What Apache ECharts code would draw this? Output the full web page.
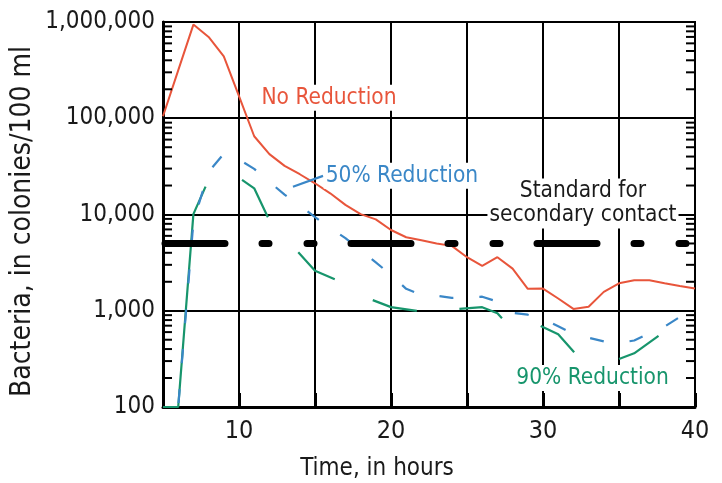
<!DOCTYPE html>
<html>
<head>
<meta charset="utf-8">
<script src="https://cdn.jsdelivr.net/npm/echarts@6/dist/echarts.min.js"></script>
<style>
html,body{margin:0;padding:0;background:#fff;}
#chart{width:722px;height:483px;}
</style>
</head>
<body>
<div id="chart"></div>
<script>
// ---- data ----
const xMin = 5, xMax = 40, xInterval = 5;
const yMin = 100, yMax = 1000000;

const redHours = [5,6,7,8,9,10,11,12,13,14,15,16,17,18,19,20,21,22,23,24,25,26,27,28,29,30,31,32,33,34,35,36,37,38,39,40];
const noReduction = [105000,314000,940000,700000,440000,170000,65000,42400,32000,26200,21100,16600,12600,10100,8900,6900,5800,5400,5000,4720,3600,2920,3600,2740,1690,1700,1340,1045,1100,1570,1930,2070,2070,1930,1810,1700];

const blueHours = [6,7,8,9,10,11,12,13,14,15,16,17,18,19,20,21,22,23,24,25,26,27,28,29,30,31,32,33,34,35,36,37,38,39,40];
const reduction50 = [100,8400,27700,42700,37200,29800,21800,16100,12400,9400,7260,5680,4240,3180,2360,1690,1460,1430,1360,1380,1400,1245,950,910,820,690,574,525,480,463,491,583,685,863,1000];

const greenHours = [5,6,7,7.8,9,10.2,11,11.9,13,13.9,15,16.3,17.5,18.8,20,21.7,23,24.5,26,27,27.3,28.5,29.85,31,32.05,33.5,35,36,37.6];
const reduction90 = [100,100,10100,19500,null,22900,18700,9380,null,4060,2610,2120,null,1290,1090,995,null,1045,1090,942,835,null,695,570,371,null,315,361,547];

const standardHours = [5, 40];
const standardValue = 5000;

const leaderHours = [13.55, 15.53];
const leaderValues = [19400, 25200];

const minorTicks = [200,300,400,500,600,700,800,900,2000,3000,4000,5000,6000,7000,8000,9000,20000,30000,40000,50000,60000,70000,80000,90000,200000,300000,400000,500000,600000,700000,800000,900000];

const xLabels = [10, 20, 30, 40];

const labelNo = {text: 'No Reduction', hour: 15.92, value: 163000};
const label50 = {text: '50% Reduction', hour: 20.72, value: 25200};
const label90 = {text: '90% Reduction', hour: 33.26, value: 200};
const labelStd = {text: 'Standard for\nsecondary contact', hour: 32.63, value: 13000};

// ---- styles ----
const FONT = "'DejaVu Sans Condensed', 'Liberation Sans', sans-serif";
const RED = '#e8553b', BLUE = '#3a87c7', GREEN = '#17956c';

const pair = (xs, ys) => xs.map((x, i) => [x, ys[i] == null ? '-' : ys[i]]);

function textMark(lbl, color) {
  return {
    silent: true,
    symbol: 'circle',
    symbolSize: 0,
    label: {
      show: true,
      position: 'inside',
      formatter: lbl.text,
      color: color,
      fontFamily: FONT,
      fontSize: 22.5,
      lineHeight: 24,
      align: 'center',
      backgroundColor: '#fff',
      padding: [1, 2]
    },
    data: [{coord: [lbl.hour, lbl.value], value: 0}]
  };
}

const chart = echarts.init(document.getElementById('chart'), null, {renderer: 'canvas'});

chart.setOption({
  animation: false,
  backgroundColor: '#fff',
  grid: {left: 163, right: 27, top: 22, bottom: 76, containLabel: false, outerBoundsMode: 'none',
         show: true, borderColor: '#000', borderWidth: 2, backgroundColor: 'transparent'},
  xAxis: {
    type: 'value', min: xMin, max: xMax, interval: xInterval,
    name: 'Time, in hours', nameLocation: 'middle', nameGap: 50, nameMoveOverlap: false,
    nameTextStyle: {fontFamily: FONT, fontSize: 24, color: '#1a1a1a', padding: [0, 104, 0, 0]},
    axisLine: {show: true, lineStyle: {color: '#000', width: 3}},
    axisTick: {show: true, inside: true, length: 14, lineStyle: {color: '#000', width: 3}},
    splitLine: {show: true, lineStyle: {color: '#000', width: 2}},
    axisLabel: {
      margin: 12, fontFamily: FONT, fontSize: 25, color: '#1a1a1a',
      formatter: v => xLabels.indexOf(v) >= 0 ? String(v) : ''
    }
  },
  yAxis: {
    type: 'log', logBase: 10, min: yMin, max: yMax,
    name: 'Bacteria, in colonies/100 ml', nameLocation: 'middle', nameGap: 126, nameMoveOverlap: false,
    nameTextStyle: {fontFamily: FONT, fontSize: 28, color: '#1a1a1a', padding: [0, 14, 0, 0]},
    axisLine: {show: true, lineStyle: {color: '#000', width: 3}},
    axisTick: {show: false},
    splitLine: {show: true, lineStyle: {color: '#000', width: 2}},
    axisLabel: {
      margin: 8, fontFamily: FONT, fontSize: 24, color: '#1a1a1a',
      formatter: v => Math.round(v).toLocaleString('en-US')
    }
  },
  series: [
    {
      type: 'custom', name: 'minorTicks', silent: true, z: 3, clip: false,
      data: minorTicks.map(v => [xMin, v]),
      renderItem: function (params, api) {
        const v = api.value(1);
        const pl = api.coord([xMin, v]);
        const pr = api.coord([xMax, v]);
        const st = {stroke: '#000', lineWidth: 2};
        return {
          type: 'group',
          children: [
            {type: 'line', shape: {x1: pl[0], y1: pl[1], x2: pl[0] + 9, y2: pl[1]}, style: st},
            {type: 'line', shape: {x1: pr[0] - 9, y1: pr[1], x2: pr[0], y2: pr[1]}, style: st}
          ]
        };
      }
    },
    {
      type: 'line', name: 'No Reduction', z: 2,
      data: pair(redHours, noReduction),
      showSymbol: false, symbol: 'none',
      lineStyle: {color: RED, width: 2},
      markPoint: textMark(labelNo, RED)
    },
    {
      type: 'line', name: '90% Reduction', z: 2,
      data: pair(greenHours, reduction90),
      connectNulls: false,
      showSymbol: false, symbol: 'none',
      lineStyle: {color: GREEN, width: 2.2},
      markPoint: textMark(label90, GREEN)
    },
    {
      type: 'line', name: '50% Reduction', z: 3,
      data: pair(blueHours, reduction50),
      showSymbol: false, symbol: 'none',
      lineStyle: {color: BLUE, width: 2.2, type: [14, 26], dashOffset: -4},
      markLine: {
        silent: true, symbol: 'none',
        label: {show: false},
        lineStyle: {color: BLUE, width: 2.2, type: 'solid'},
        data: [[{coord: [leaderHours[0], leaderValues[0]]}, {coord: [leaderHours[1], leaderValues[1]]}]]
      },
      markPoint: textMark(label50, BLUE)
    },
    {
      type: 'line', name: 'Standard', z: 4,
      data: standardHours.map(h => [h, standardValue]),
      showSymbol: false, symbol: 'none',
      lineStyle: {color: '#000', width: 7, cap: 'round', type: [60, 37, 7, 38, 7, 37], dashOffset: -2},
      markPoint: textMark(labelStd, '#1a1a1a')
    }
  ]
});
</script>
</body>
</html>
